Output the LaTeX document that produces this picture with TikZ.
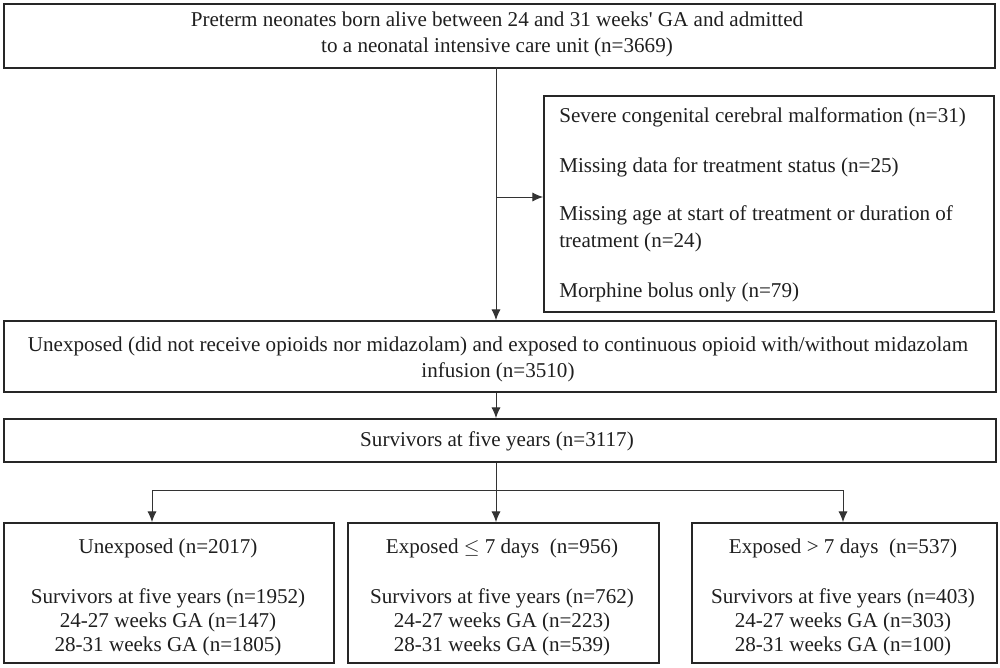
\documentclass[tikz,border=0pt]{standalone}
\usepackage{fontspec}
\setmainfont{Liberation Serif}
\usetikzlibrary{arrows.meta}
\begin{document}
\begin{tikzpicture}[x=0.025cm,y=-0.025cm,
  box/.style={draw=black!85,line width=1.4pt,inner sep=0pt,anchor=north west},
  txt/.style={inner sep=0pt,font=\fontsize{15}{17}\selectfont,text=black!88},
  conn/.style={draw=black!80,line width=0.7pt},
  arr/.style={conn,-{Latex[length=7.5pt,width=6.5pt]}}]
\useasboundingbox (0,0) rectangle (1000,667);
% boxes
\node[box,minimum width=991*0.025cm,minimum height=64*0.025cm] (top) at (3,3) {};
\node[box,minimum width=450*0.025cm,minimum height=216*0.025cm] (excl) at (543,95) {};
\node[box,minimum width=992*0.025cm,minimum height=71*0.025cm] (mid) at (3,320) {};
\node[box,minimum width=992*0.025cm,minimum height=43*0.025cm] (surv) at (3,418) {};
\node[box,minimum width=330*0.025cm,minimum height=140*0.025cm] (b1) at (3,522) {};
\node[box,minimum width=311*0.025cm,minimum height=140*0.025cm] (b2) at (347,522) {};
\node[box,minimum width=305*0.025cm,minimum height=140*0.025cm] (b3) at (691,522) {};
% texts
\node[txt,align=center] (t1) at (497,34.5) {Preterm neonates born alive between 24 and 31 weeks\textquotesingle{} GA and admitted\\[1pt]to a neonatal intensive care unit (n=3669)};
\node[txt,anchor=west] (e1) at (559,117) {Severe congenital cerebral malformation (n=31)};
\node[txt,anchor=west] (e2) at (559,167) {Missing data for treatment status (n=25)};
\node[txt,anchor=west,align=left] (e3) at (559,228.5) {Missing age at start of treatment or duration of\\[2pt]treatment (n=24)};
\node[txt,anchor=west] (e4) at (559,292) {Morphine bolus only (n=79)};
\node[txt,align=center] (t3) at (498,359.5) {Unexposed (did not receive opioids nor midazolam) and exposed to continuous opioid with/without midazolam\\[1pt]infusion (n=3510)};
\node[txt] (t4) at (497,441) {Survivors at five years (n=3117)};
\node[txt] (h1) at (168,548) {Unexposed (n=2017)};
\node[txt] (h2) at (502,548) {Exposed $\leq$ 7 days\ \ (n=956)};
\node[txt] (h3) at (843,548) {Exposed > 7 days\ \ (n=537)};
\node[txt,align=center] (s1) at (168,622) {Survivors at five years (n=1952)\\24-27 weeks GA (n=147)\\28-31 weeks GA (n=1805)};
\node[txt,align=center] (s2) at (502,622) {Survivors at five years (n=762)\\24-27 weeks GA (n=223)\\28-31 weeks GA (n=539)};
\node[txt,align=center] (s3) at (843,622) {Survivors at five years (n=403)\\24-27 weeks GA (n=303)\\28-31 weeks GA (n=100)};
% connectors
\coordinate (stem) at (496,67);
\coordinate (j) at (496,490);
\coordinate (j1) at (152,490);
\coordinate (j3) at (843,490);
\draw[arr] (stem) -- (stem |- mid.north);
\draw[arr] (stem |- 0,197) -- (excl.west |- 0,197);
\draw[arr] (stem |- mid.south) -- (stem |- surv.north);
\draw[conn] (stem |- surv.south) -- (j);
\draw[conn] (j1) -- (j3);
\draw[arr] (j1) -- (j1 |- b1.north);
\draw[arr] (j) -- (j |- b2.north);
\draw[arr] (j3) -- (j3 |- b3.north);
\end{tikzpicture}
\end{document}
